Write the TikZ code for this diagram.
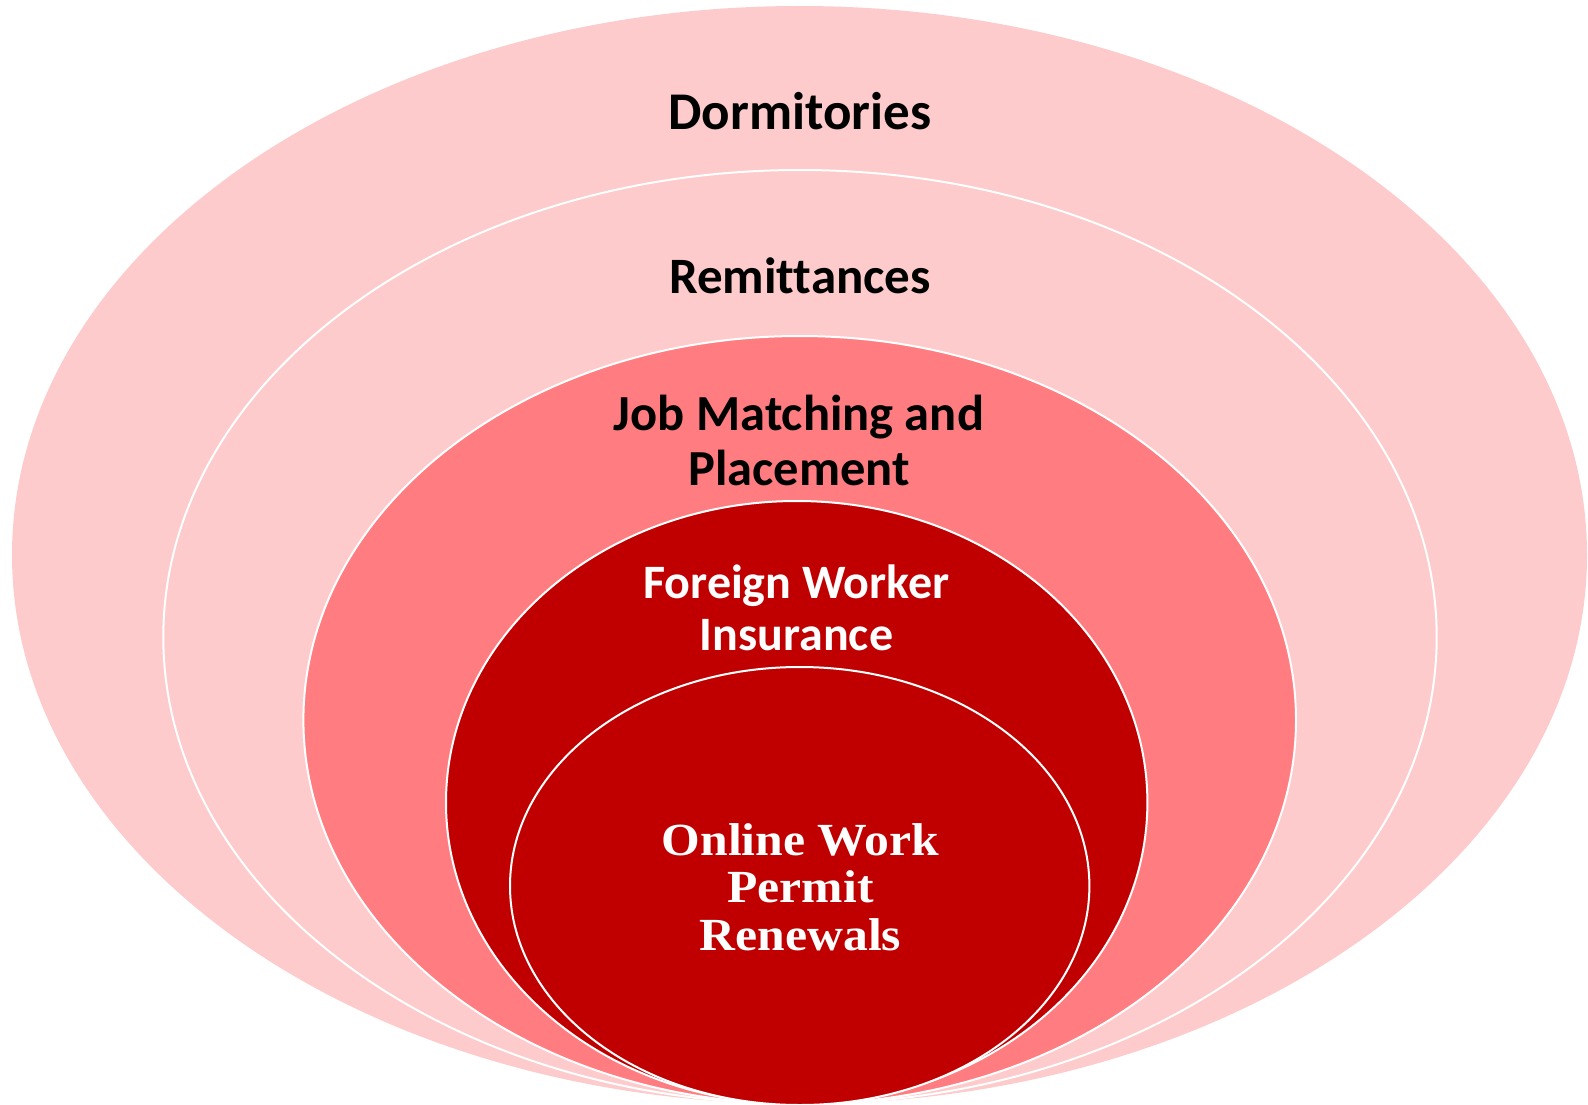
\documentclass[tikz,border=0pt]{standalone}
\usepackage{fontspec}
\setmainfont{Carlito}[Ligatures={NoCommon}]
\newfontfamily\serifbold[FakeStretch=1.08]{Liberation Serif}
\definecolor{lightpink}{HTML}{FDCBCB}
\definecolor{midpink}{HTML}{FF7C80}
\definecolor{darkred}{HTML}{C00000}
\tikzset{
  ring/.style={draw=white, line width=2pt},
  blacklabel/.style={inner sep=0pt, align=center, anchor=base, text=black, font=\bfseries\fontsize{51}{55}\selectfont},
  whitelabel/.style={inner sep=0pt, align=center, anchor=base, text=white, font=\bfseries\fontsize{48}{52}\selectfont},
  seriflabel/.style={inner sep=0pt, align=center, anchor=base, text=white, font=\serifbold\bfseries\fontsize{46}{47.5}\selectfont}
}
\begin{document}
\begin{tikzpicture}[x=1pt,y=-1pt]
\useasboundingbox (0,0) rectangle (1588,1105);
\fill[lightpink] (799.5,555) ellipse [x radius=787.5pt, y radius=549pt];
\filldraw[ring, fill=lightpink] (800,637) ellipse [x radius=636.7pt, y radius=467pt];
\filldraw[ring, fill=midpink] (799.7,720) ellipse [x radius=496.3pt, y radius=384pt];
\filldraw[ring, fill=darkred] (796.7,802.5) ellipse [x radius=350.7pt, y radius=301.5pt];
\filldraw[ring, fill=darkred] (799.7,886) ellipse [x radius=289.7pt, y radius=219pt];
\node[blacklabel, font=\bfseries\fontsize{53}{57}\selectfont] (dorm) at (800,130) {Dormitories};
\node[blacklabel] (remit) at (800,293) {Remittances};
\node[blacklabel, font=\bfseries\fontsize{50.5}{55}\selectfont] (job) at (799,485) {Job Matching and\\Placement};
\node[whitelabel] (ins) at (796.5,650) {Foreign Worker\\Insurance};
\node[seriflabel] (permit) at (800.5,950) {Online Work\\Permit\\Renewals};
\end{tikzpicture}
\end{document}
